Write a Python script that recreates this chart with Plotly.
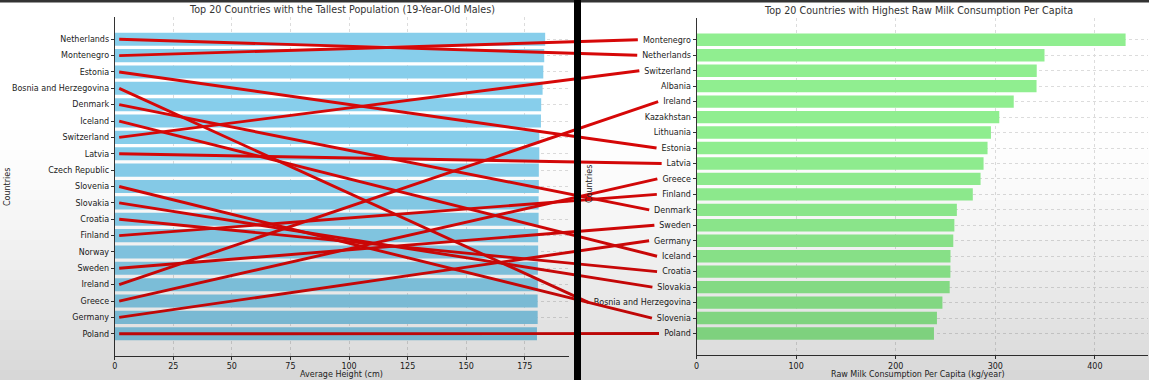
import plotly.graph_objects as go

# ---------------- data ----------------
left_countries = ["Netherlands", "Montenegro", "Estonia", "Bosnia and Herzegovina", "Denmark",
                  "Iceland", "Switzerland", "Latvia", "Czech Republic", "Slovenia", "Slovakia",
                  "Croatia", "Finland", "Norway", "Sweden", "Ireland", "Greece", "Germany", "Poland"]
left_heights = [183.7, 183.3, 182.9, 182.6, 182.0, 181.9, 181.2, 181.2, 181.0, 181.0, 180.9,
                180.9, 180.7, 180.7, 180.6, 180.6, 180.5, 180.5, 180.2]

right_countries = ["Montenegro", "Netherlands", "Switzerland", "Albania", "Ireland", "Kazakhstan",
                   "Lithuania", "Estonia", "Latvia", "Greece", "Finland", "Denmark", "Sweden",
                   "Germany", "Iceland", "Croatia", "Slovakia", "Bosnia and Herzegovina",
                   "Slovenia", "Poland"]
right_milk = [430.8, 349.4, 341.6, 341.4, 318.5, 304.0, 295.6, 292.2, 288.2, 285.2, 277.4,
              261.4, 258.9, 257.8, 255.0, 254.9, 254.2, 246.9, 241.4, 238.4]

left_ticks = [0, 25, 50, 75, 100, 125, 150, 175]
right_ticks = [0, 100, 200, 300, 400]

left_title = "Top 20 Countries with the Tallest Population (19-Year-Old Males)"
right_title = "Top 20 Countries with Highest Raw Milk Consumption Per Capita"
left_xlabel = "Average Height (cm)"
right_xlabel = "Raw Milk Consumption Per Capita (kg/year)"
ylabel = "Countries"

# ---------------- layout constants (pixels) ----------------
W, H = 1149, 380
L_X0, L_X1, L_XMAX = 114.7, 568.6, 193.7
R_X0, R_X1, R_XMAX = 696.5, 1148.0, 453.3
L_Y0, L_Y1 = 17.3, 355.7
R_Y0, R_Y1 = 18.3, 355.0
FONT = "DejaVu Sans"
TICK_SIZE = 8
TITLE_SIZE = 9.6


def cat_range(n):
    m = 0.05 * ((n - 1) + 0.8)
    return -0.4 - m, n - 1 + 0.4 + m


def row_pixel(i, n, y0, y1):
    lo, hi = cat_range(n)
    return y0 + (i + 0.4 + 0.05 * ((n - 1) + 0.8)) / (hi - lo) * (y1 - y0)


# approximate DejaVu Sans advance widths (em)
CW = {" ": .318, "a": .613, "b": .635, "c": .550, "d": .635, "e": .615, "f": .352, "g": .635,
      "h": .634, "i": .278, "k": .579, "l": .278, "m": .974, "n": .634, "o": .612, "p": .635,
      "r": .411, "s": .521, "t": .392, "u": .634, "v": .592, "w": .818, "y": .592, "z": .525,
      "A": .684, "B": .686, "C": .698, "D": .770, "E": .632, "F": .575, "G": .775, "H": .752,
      "I": .295, "K": .656, "L": .557, "M": .863, "N": .748, "P": .603, "R": .695, "S": .635}


def text_w(s):
    return sum(CW.get(c, 0.6) for c in s) * TICK_SIZE


fig = go.Figure()

# left bars
fig.add_trace(go.Bar(x=left_heights, y=left_countries, orientation="h",
                     marker=dict(color="#87CEEB", line=dict(width=0)), width=0.8,
                     xaxis="x", yaxis="y", showlegend=False))
# right bars
fig.add_trace(go.Bar(x=right_milk, y=right_countries, orientation="h",
                     marker=dict(color="#90EE90", line=dict(width=0)), width=0.8,
                     xaxis="x2", yaxis="y2", showlegend=False))

# red connector lines (overlay in pixel space)
lx, ly = [], []
nL, nR = len(left_countries), len(right_countries)
for i, c in enumerate(left_countries):
    if c in right_countries:
        j = right_countries.index(c)
        x_start = L_X0 + 4.5
        y_start = row_pixel(i, nL, L_Y0, L_Y1)
        x_end = R_X0 - 5.5 - text_w(c) - 5
        y_end = row_pixel(j, nR, R_Y0, R_Y1)
        lx += [x_start, x_end, None]
        ly += [y_start, y_end, None]
fig.add_trace(go.Scatter(x=lx, y=ly, mode="lines", line=dict(color="rgb(214,8,8)", width=2.9),
                         xaxis="x3", yaxis="y3", showlegend=False, hoverinfo="skip"))

axis_common = dict(ticks="outside", ticklen=3, tickwidth=0.8, tickcolor="#333",
                   showline=True, linecolor="#333", linewidth=1, showgrid=True,
                   gridcolor="#dcdcdc", griddash="dot", gridwidth=0.8, zeroline=False,
                   tickfont=dict(family=FONT, size=TICK_SIZE, color="#222"), automargin=False)

loL, hiL = cat_range(nL)
loR, hiR = cat_range(nR)

fig.update_layout(
    width=W, height=H, margin=dict(l=0, r=0, t=0, b=0),
    paper_bgcolor="white", plot_bgcolor="rgba(0,0,0,0)",
    bargap=0.2,
    xaxis=dict(domain=[L_X0 / W, L_X1 / W], range=[0, L_XMAX], tickvals=left_ticks,
               anchor="y", **axis_common),
    yaxis=dict(domain=[1 - L_Y1 / H, 1 - L_Y0 / H], type="category",
               categoryorder="array", categoryarray=left_countries[::-1],
               range=[loL, hiL], anchor="x", **axis_common),
    xaxis2=dict(domain=[R_X0 / W, R_X1 / W], range=[0, R_XMAX], tickvals=right_ticks,
                anchor="y2", **axis_common),
    yaxis2=dict(domain=[1 - R_Y1 / H, 1 - R_Y0 / H], type="category",
                categoryorder="array", categoryarray=right_countries[::-1],
                range=[loR, hiR], anchor="x2", **axis_common),
    xaxis3=dict(domain=[0, 1], range=[0, W], visible=False, anchor="y3"),
    yaxis3=dict(domain=[0, 1], range=[H, 0], visible=False, anchor="x3"),
)

ann_font = dict(family=FONT, size=TICK_SIZE, color="#222")
title_font = dict(family=FONT, size=TITLE_SIZE, color="#333")
annotations = [
    dict(text=left_title, x=(L_X0 + L_X1) / 2 / W, y=1 - 10 / H, font=title_font),
    dict(text=right_title, x=(R_X0 + R_X1) / 2 / W - 4 / W, y=1 - 11 / H, font=title_font),
    dict(text=left_xlabel, x=(L_X0 + L_X1) / 2 / W, y=1 - 374 / H, font=ann_font),
    dict(text=right_xlabel, x=(R_X0 + R_X1) / 2 / W - 4 / W, y=1 - 374 / H, font=ann_font),
    dict(text=ylabel, x=7 / W, y=1 - 187 / H, textangle=-90, font=ann_font),
    dict(text=ylabel, x=590 / W, y=1 - 184 / H, textangle=-90, font=ann_font),
]
for a in annotations:
    a.update(xref="paper", yref="paper", showarrow=False, xanchor="center", yanchor="middle")
fig.update_layout(annotations=annotations)

shapes = []
# screenshot vignette (darker towards bottom)
NB = 26
for k in range(NB):
    t = (k + 0.5) / NB
    y0 = 120 + k * 10
    shapes.append(dict(type="rect", xref="paper", yref="paper", x0=0, x1=1,
                       y0=1 - (y0 + 10) / H, y1=1 - y0 / H, line=dict(width=0),
                       fillcolor="rgba(0,0,0,%.4f)" % (0.16 * t ** 1.5), layer="above"))
# top dark strip
shapes.append(dict(type="rect", xref="paper", yref="paper", x0=0, x1=1, y0=1 - 2.5 / H, y1=1,
                   line=dict(width=0), fillcolor="#333", layer="above"))
# black divider
shapes.append(dict(type="rect", xref="paper", yref="paper", x0=574 / W, x1=581 / W, y0=0, y1=1,
                   line=dict(width=0), fillcolor="black", layer="above"))
fig.update_layout(shapes=shapes)

fig.write_html("out.html", config={"displayModeBar": False},
               post_script="document.body.style.margin='0';document.body.style.overflow='hidden';")
